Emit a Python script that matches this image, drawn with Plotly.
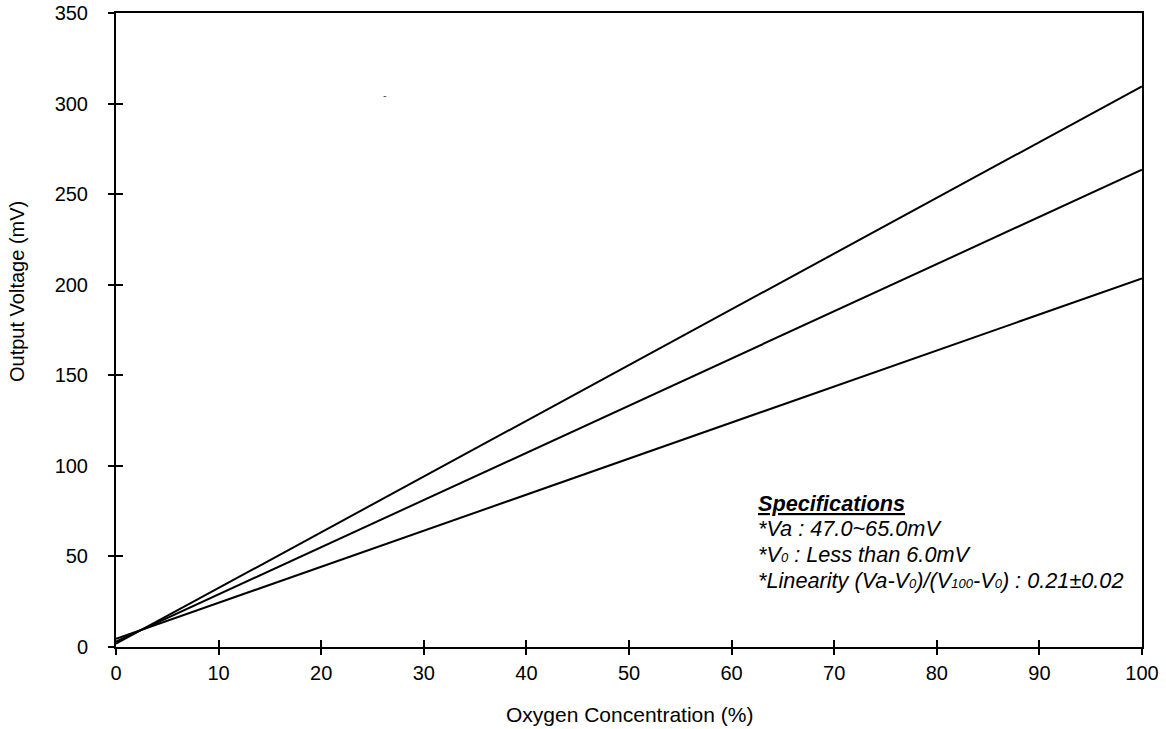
import plotly.graph_objects as go

# Data
oxygen_pct = [0, 100]
sensor_high = [1.8, 309.5]
sensor_mid = [3.0, 263.5]
sensor_low = [4.5, 203.5]

x_ticks = [0, 10, 20, 30, 40, 50, 60, 70, 80, 90, 100]
y_ticks = [0, 50, 100, 150, 200, 250, 300, 350]

FONT = "Liberation Sans, Arial, sans-serif"

# plot-area geometry in page pixels (reference)
L, R, T, B = 116, 1142, 13, 647
W, H = 1166, 729
px_per_mv = (B - T) / 350
px_per_pct = (R - L) / 100

fig = go.Figure()
for ys in (sensor_high, sensor_mid, sensor_low):
    fig.add_trace(go.Scatter(x=oxygen_pct, y=ys, mode="lines",
                             line=dict(color="black", width=2),
                             showlegend=False, hoverinfo="skip"))

axis_common = dict(showgrid=False, zeroline=False, linecolor="black", linewidth=2,
                   tickcolor="black", tickwidth=2, automargin=False,
                   ticklabeloverflow="allow",
                   tickfont=dict(family=FONT, size=20, color="black"))

fig.update_layout(
    width=W, height=H,
    margin=dict(l=L, r=W - R, t=T, b=H - B),
    paper_bgcolor="white", plot_bgcolor="white",
    font=dict(family=FONT, color="black"),
    xaxis=dict(range=[0, 100], tickvals=x_ticks, ticks="outside", ticklen=6,
               mirror=True, showline=True, ticklabelstandoff=1,
               **axis_common),
    yaxis=dict(range=[0, 350], tickvals=y_ticks, ticks="outside", ticklen=6,
               mirror=True, showline=True, ticklabelstandoff=16,
               **axis_common),
    xaxis2=dict(range=[0, 100], tickvals=x_ticks, ticks="inside", ticklen=7,
                overlaying="x", showticklabels=False, showgrid=False, zeroline=False,
                tickcolor="black", tickwidth=2, showline=False, matches="x"),
    yaxis2=dict(range=[0, 350], tickvals=y_ticks, ticks="inside", ticklen=7,
                overlaying="y", showticklabels=False, showgrid=False, zeroline=False,
                tickcolor="black", tickwidth=2, showline=False, matches="y"),
)

# dummy invisible trace for the secondary axes (inside tick halves)
fig.add_trace(go.Scatter(x=[None], y=[None], xaxis="x2", yaxis="y2",
                         showlegend=False, hoverinfo="skip"))

# axis titles
fig.add_annotation(text="Oxygen Concentration (%)", xref="paper", yref="paper",
                   x=0.5, y=0, yshift=-67, showarrow=False, yanchor="middle",
                   font=dict(family=FONT, size=21, color="black"))
fig.add_annotation(text="Output Voltage (mV)", xref="paper", yref="paper",
                   x=0, y=0.5, xshift=-99, yshift=38, showarrow=False, textangle=-90,
                   xanchor="center", yanchor="middle",
                   font=dict(family=FONT, size=20, color="black"))

SUB = "<span style='font-size:13px'>{}</span>"
spec_lines = [
    "<b><i><u>Specifications</u></i></b>",
    "<i>*Va : 47.0~65.0mV</i>",
    "<i>*V" + SUB.format("0") + " : Less than 6.0mV</i>",
    "<i>*Linearity (Va-V" + SUB.format("0") + ")/(V" + SUB.format("100") + "-V"
    + SUB.format("0") + ") : 0.21±0.02</i>",
]
for i, t in enumerate(spec_lines):
    fig.add_annotation(x=(756 - L) / px_per_pct, y=(B - 503 - i * 25.7) / px_per_mv,
                       xref="x", yref="y", text=t, showarrow=False,
                       xanchor="left", yanchor="middle",
                       font=dict(family=FONT, size=21.7, color="black"))

# tiny stray dash present in the reference
fig.add_annotation(x=(385 - L) / px_per_pct, y=(B - 95) / px_per_mv, xref="x", yref="y",
                   text="-", showarrow=False, font=dict(family=FONT, size=11, color="#444"))

fig.write_html("out.html",
               config={"displayModeBar": False, "staticPlot": True},
               post_script="document.body.style.margin='0';document.body.style.overflow='hidden';")
